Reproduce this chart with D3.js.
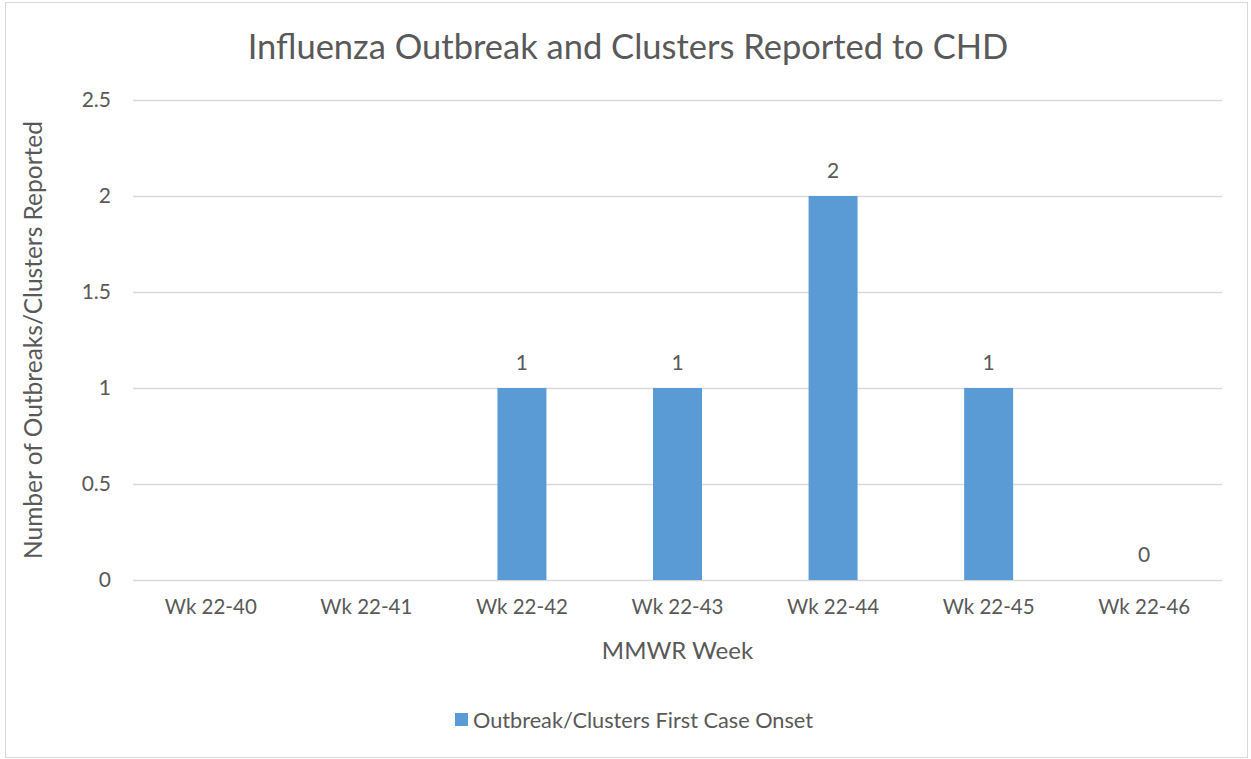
<!DOCTYPE html>
<html>
<head>
<meta charset="utf-8">
<script src="https://cdn.jsdelivr.net/npm/d3@7"></script>
<style>
  body { margin: 0; background: #fff; }
  text { font-family: Lato, "Open Sans", sans-serif; fill: #595959; }
</style>
</head>
<body>
<svg></svg>
<script>
const weeks = ["Wk 22-40", "Wk 22-41", "Wk 22-42", "Wk 22-43", "Wk 22-44", "Wk 22-45", "Wk 22-46"];
const counts = [null, null, 1, 1, 2, 1, 0];
const yTicks = [0, 0.5, 1, 1.5, 2, 2.5];
const seriesName = "Outbreak/Clusters First Case Onset";

const width = 1251, height = 759;
const margin = ({ top: 100, right: 29, bottom: 179, left: 133 });

const svg = d3.select("svg")
    .attr("width", width)
    .attr("height", height);

// outer chart border
svg.append("rect")
    .attr("x", 5.5).attr("y", 2.5)
    .attr("width", 1242).attr("height", 755)
    .attr("fill", "#fff")
    .attr("stroke", "#d9d9d9");

const x = d3.scaleBand()
    .domain(weeks)
    .range([margin.left, width - margin.right]);

const y = d3.scaleLinear()
    .domain([0, 2.5])
    .range([height - margin.bottom, margin.top]);

// gridlines + y labels
const yAxis = g => g
    .attr("transform", `translate(${margin.left},0)`)
    .call(d3.axisLeft(y).tickValues(yTicks).tickFormat(d => d)
        .tickSize(-(width - margin.right - margin.left)).tickPadding(22))
    .call(g => g.select(".domain").remove())
    .call(g => g.selectAll("line").attr("stroke", "#d9d9d9").attr("stroke-width", 1.5))
    .call(g => g.selectAll("text").attr("font-size", 21).attr("font-family", null));

svg.append("g").call(yAxis);

const xAxis = g => g
    .attr("transform", `translate(0,${height - margin.bottom})`)
    .call(d3.axisBottom(x).tickSize(0).tickPadding(19))
    .call(g => g.select(".domain").remove())
    .call(g => g.selectAll("text").attr("font-size", 20.5).attr("font-family", null));

svg.append("g").call(xAxis);

const bw = 49;
const data = weeks.map((w, i) => ({ week: w, value: counts[i] }));

svg.append("g")
    .selectAll("rect").data(data.filter(d => d.value > 0)).enter().append("rect")
    .attr("x", d => x(d.week) + x.bandwidth() / 2 - bw / 2)
    .attr("y", d => y(d.value))
    .attr("width", bw)
    .attr("height", d => y(0) - y(d.value))
    .attr("fill", "#5b9bd5");

svg.append("g")
    .selectAll("text").data(data.filter(d => d.value !== null)).enter().append("text")
    .attr("x", d => x(d.week) + x.bandwidth() / 2)
    .attr("y", d => y(d.value) - 18)
    .attr("text-anchor", "middle")
    .attr("font-size", 21)
    .text(d => d.value);

svg.append("text")
    .attr("x", 628)
    .attr("y", 59)
    .attr("text-anchor", "middle")
    .attr("font-size", 34.5)
    .text("Influenza Outbreak and Clusters Reported to CHD");

svg.append("text")
    .attr("x", (margin.left + width - margin.right) / 2)
    .attr("y", 659)
    .attr("text-anchor", "middle")
    .attr("font-size", 24)
    .text("MMWR Week");

svg.append("text")
    .attr("transform", `translate(42,${(y(0) + y(2.5)) / 2}) rotate(-90)`)
    .attr("text-anchor", "middle")
    .attr("font-size", 24.5)
    .text("Number of Outbreaks/Clusters Reported");

const legend = svg.append("g").attr("transform", "translate(455,720)");
legend.append("rect")
    .attr("x", 0).attr("y", -7)
    .attr("width", 13).attr("height", 13)
    .attr("fill", "#5b9bd5");
legend.append("text")
    .attr("x", 18).attr("y", 7.5)
    .attr("font-size", 21.7)
    .text(seriesName);
</script>
</body>
</html>
